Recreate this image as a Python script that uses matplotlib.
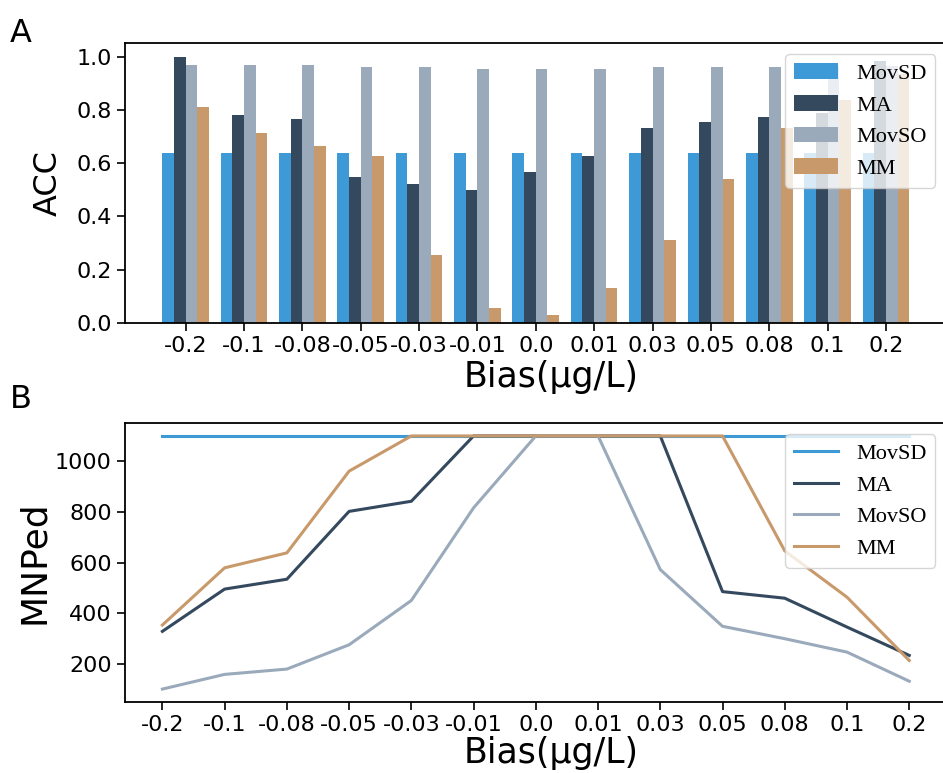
import numpy as np
import matplotlib
matplotlib.use('Agg')
import matplotlib.pyplot as plt

# bias levels (ug/L)
bias_labels = ['-0.2', '-0.1', '-0.08', '-0.05', '-0.03', '-0.01', '0.0',
               '0.01', '0.03', '0.05', '0.08', '0.1', '0.2']

# panel A: accuracy
acc_movsd = [0.638, 0.638, 0.638, 0.638, 0.638, 0.638, 0.638,
             0.638, 0.638, 0.638, 0.638, 0.638, 0.638]
acc_ma = [1.0, 0.779, 0.766, 0.548, 0.520, 0.500, 0.568,
          0.626, 0.732, 0.754, 0.774, 0.79, 0.983]
acc_movso = [0.967, 0.967, 0.967, 0.963, 0.961, 0.953, 0.953,
             0.955, 0.960, 0.962, 0.962, 0.965, 0.965]
acc_mm = [0.812, 0.714, 0.666, 0.627, 0.253, 0.054, 0.029,
          0.131, 0.312, 0.541, 0.733, 0.837, 0.935]

# panel B: MNPed
mnp_movsd = [1100, 1100, 1100, 1100, 1100, 1100, 1100,
             1100, 1100, 1100, 1100, 1100, 1100]
mnp_ma = [328, 495, 534, 802, 842, 1100, 1100,
          1100, 1100, 485, 459, 345, 233]
mnp_movso = [100, 158, 179, 275, 450, 816, 1100,
             1100, 572, 348, 299, 246, 131]
mnp_mm = [353, 579, 638, 961, 1100, 1100, 1100,
          1100, 1100, 1100, 646, 463, 213]

names = ['MovSD', 'MA', 'MovSO', 'MM']
colors = ['#3d9ad6', '#34495e', '#9aaabb', '#c8996a']

fig = plt.figure(figsize=(9.43, 7.73), dpi=100)
ax1 = fig.add_axes([0.1326, 0.5825, 0.8712, 0.3614])
ax2 = fig.add_axes([0.1326, 0.0922, 0.8712, 0.3602])

x = np.arange(len(bias_labels))
w = 0.2
acc_all = [acc_movsd, acc_ma, acc_movso, acc_mm]
for i, (vals, name, c) in enumerate(zip(acc_all, names, colors)):
    ax1.bar(x + (i - 1.5) * w, vals, w, color=c, label=name)

ax1.set_xticks(x)
ax1.set_xticklabels(bias_labels)
ax1.set_ylabel('ACC', fontsize=23, labelpad=9)
ax1.set_xlabel('Bias(μg/L)', fontsize=25, labelpad=3)
ax1.legend(loc='upper right', prop={'family': 'Liberation Serif', 'size': 16})

mnp_all = [mnp_movsd, mnp_ma, mnp_movso, mnp_mm]
for vals, name, c in zip(mnp_all, names, colors):
    ax2.plot(x, vals, color=c, lw=2.2, label=name)

ax2.set_xticks(x)
ax2.set_xticklabels(bias_labels)
ax2.set_yticks([200, 400, 600, 800, 1000])
ax2.set_ylabel('MNPed', fontsize=26, labelpad=3)
ax2.set_xlabel('Bias(μg/L)', fontsize=25, labelpad=1)
ax2.legend(loc='upper right', prop={'family': 'Liberation Serif', 'size': 16})

for ax in (ax1, ax2):
    ax.tick_params(labelsize=16, length=6, width=1.2)
    ax.xaxis.label.set_x(0.5186)  # label sits a bit right of centre
    for s in ax.spines.values():
        s.set_linewidth(1.3)

fig.text(0.01, 0.977, 'A', fontsize=23, va='top')
fig.text(0.01, 0.503, 'B', fontsize=23, va='top')

fig.savefig('out.png', dpi=100)
